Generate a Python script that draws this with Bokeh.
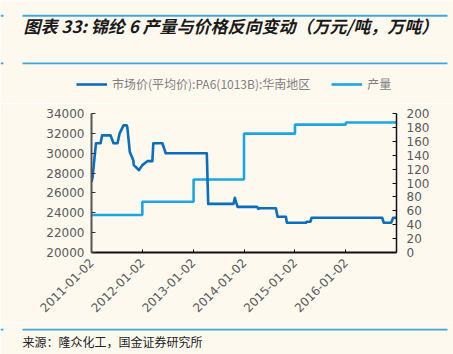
import pandas as pd
from bokeh.plotting import figure
from bokeh.layouts import column
from bokeh.models import (Range1d, LinearAxis, FixedTicker, DatetimeTickFormatter,
                          Legend, LegendItem, Label, BoxAnnotation)
from bokeh.embed import file_html
from bokeh.resources import INLINE

# ---------------- data ----------------
price_dates = [
    "2011-01-02", "2011-01-09", "2011-02-03", "2011-03-08", "2011-03-19",
    "2011-05-19", "2011-06-09", "2011-07-08", "2011-07-23", "2011-08-20",
    "2011-09-11", "2011-09-16", "2011-10-04", "2011-10-14", "2011-10-29",
    "2011-11-02", "2011-11-27", "2011-12-08", "2012-01-02", "2012-01-26",
    "2012-02-07", "2012-03-14", "2012-03-21", "2012-05-25", "2012-06-18",
    "2013-04-09", "2013-04-19", "2013-10-18", "2013-10-27", "2013-11-16",
    "2014-04-04", "2014-04-14", "2014-04-25", "2014-08-18", "2014-08-30",
    "2014-10-29", "2014-11-05", "2015-03-22", "2015-03-29", "2015-04-22",
    "2015-05-02", "2016-09-19", "2016-10-01", "2016-11-23", "2016-12-07",
    "2016-12-29",
]
price_values = [
    27100, 27500, 31000, 31000, 31800,
    31800, 31000, 31000, 32000, 32800,
    32800, 32650, 30130, 29800, 29300,
    28800, 28460, 28290, 28800, 29070,
    29200, 29200, 31000, 31000, 30000,
    30000, 24900, 24900, 25500, 24600,
    24600, 24400, 24450, 24450, 23600,
    23600, 23000, 23000, 23100, 23100,
    23500, 23500, 23000, 23000, 23500,
    23500,
]

prod_dates = ["2011-01-02", "2012-01-02", "2013-01-04", "2014-01-01",
              "2015-01-02", "2016-01-02", "2016-12-31"]
prod_values = [54, 73, 105, 171, 184, 187, 187]

x_tick_dates = ["2011-01-02", "2012-01-02", "2013-01-02",
                "2014-01-02", "2015-01-02", "2016-01-02"]
left_ticks = [20000, 22000, 24000, 26000, 28000, 30000, 32000, 34000]
right_ticks = [0, 20, 40, 60, 80, 100, 120, 140, 160, 180, 200]

title_text = "图表 33: 锦纶 6 产量与价格反向变动（万元/吨，万吨）"
source_text = "来源：隆众化工，国金证券研究所"
legend_labels = ["市场价(平均价):PA6(1013B):华南地区", "产量"]

# ---------------- style ----------------
W = 453
BG = "#FEF9EF"
PRICE_C = "#0B6DBE"
PROD_C = "#1AA5E8"
RULE_C = "#3FA6DF"
TICK_C = "#595959"
LW = 2.6
HEADER_H = 103
FOOTER_H = 32
MAIN_H = 354 - HEADER_H - FOOTER_H


def ms(d):
    return (pd.Timestamp(d) - pd.Timestamp("1970-01-01")).total_seconds() * 1000.0


def rule(fig, x0, x1, y0, y1):
    fig.add_layout(BoxAnnotation(left=x0, right=x1, top=y0, bottom=y1,
                                 fill_color=RULE_C, fill_alpha=1,
                                 line_color=None))


def blank(h):
    f = figure(width=W, height=h, output_backend="svg", toolbar_location=None,
               x_range=Range1d(0, W), y_range=Range1d(h, 0),
               x_axis_location=None, y_axis_location=None,
               min_border=0, background_fill_color=BG, border_fill_color=BG,
               outline_line_color=None, frame_align=False)
    f.xgrid.visible = False
    f.ygrid.visible = False
    return f


# ---------------- header: title, rules, legend ----------------
head = blank(HEADER_H)
rule(head, 0, 3, 14.3, 16.3)
rule(head, 22, 447, 14.3, 16.3)
rule(head, 0, 3, 62, 63.7)
rule(head, 22, 447, 62, 63.7)
head.add_layout(Label(x=23, y=24.5, text=title_text, text_baseline="middle",
                      text_font="Noto Sans CJK SC", text_font_style="bold italic",
                      text_font_size="17px", text_color="#1A1A1A"))
# legend keys: style-only renderers placed outside the visible range
k_price = head.line(x=[-500, -400], y=[-500, -500], line_color=PRICE_C, line_width=LW)
k_prod = head.line(x=[-500, -400], y=[-500, -500], line_color=PROD_C, line_width=LW)
legend = Legend(items=[LegendItem(label=legend_labels[0], renderers=[k_price]),
                       LegendItem(label=legend_labels[1], renderers=[k_prod])],
                location=(76, HEADER_H - 92), orientation="horizontal",
                glyph_width=31, glyph_height=14, label_height=14,
                label_standoff=5, spacing=21, padding=0, margin=0,
                border_line_color=None, background_fill_alpha=0,
                label_text_font="Noto Sans CJK SC",
                label_text_font_size="12px", label_text_color="#7F7F7F")
head.add_layout(legend, "center")

# ---------------- main chart ----------------
p = figure(width=W, height=MAIN_H, x_axis_type="datetime",
           output_backend="svg", toolbar_location=None,
           x_range=Range1d(ms("2011-01-02"), ms("2016-12-31")),
           y_range=Range1d(20000, 34000),
           min_border_left=91, min_border_right=57,
           min_border_top=113 - HEADER_H, min_border_bottom=354 - FOOTER_H - 252,
           background_fill_color=BG, border_fill_color=BG,
           outline_line_color=None, frame_align=False)
p.xgrid.visible = False
p.ygrid.visible = False

p.extra_y_ranges = {"prod": Range1d(0, 200)}
raxis = LinearAxis(y_range_name="prod")
p.add_layout(raxis, "right")

p.step(x=pd.to_datetime(prod_dates), y=prod_values, mode="after",
       line_color=PROD_C, line_width=LW, y_range_name="prod")
p.line(x=pd.to_datetime(price_dates), y=price_values,
       line_color=PRICE_C, line_width=LW, line_join="round")

fmt = "%Y-%m-%d"
p.xaxis.ticker = FixedTicker(ticks=[ms(d) for d in x_tick_dates])
p.xaxis.formatter = DatetimeTickFormatter(
    milliseconds=fmt, seconds=fmt, minsec=fmt, minutes=fmt, hourmin=fmt,
    hours=fmt, days=fmt, months=fmt, years=fmt)
p.xaxis.major_label_orientation = 0.785398
p.xaxis.minor_tick_line_color = None
p.xaxis.major_tick_in = 3
p.xaxis.major_tick_out = 0
p.xaxis.axis_line_color = "#111111"
p.xaxis.axis_line_width = 2
p.xaxis.major_tick_line_color = "#111111"
p.xaxis.major_label_standoff = 8

left = p.yaxis[0]
left.ticker = FixedTicker(ticks=left_ticks)
left.major_tick_in = 4
left.major_tick_out = 0
left.minor_tick_line_color = None
left.axis_line_color = "#555555"
left.axis_line_width = 2
left.major_tick_line_color = "#333333"
left.major_label_standoff = 7

raxis.ticker = FixedTicker(ticks=right_ticks)
raxis.major_tick_in = 4
raxis.major_tick_out = 0
raxis.minor_tick_line_color = None
raxis.axis_line_color = "#111111"
raxis.axis_line_width = 1.5
raxis.major_tick_line_color = "#111111"
raxis.major_label_standoff = 10

for ax in (p.xaxis[0], left, raxis):
    ax.major_label_text_font = "DejaVu Sans"
    ax.major_label_text_font_size = "12px"
    ax.major_label_text_color = TICK_C

# ---------------- footer: rule + source ----------------
foot = blank(FOOTER_H)
rule(foot, 0, 3, 328.3 - (354 - FOOTER_H), 330 - (354 - FOOTER_H))
rule(foot, 22, 447, 328.3 - (354 - FOOTER_H), 330 - (354 - FOOTER_H))
foot.add_layout(Label(x=22, y=341 - (354 - FOOTER_H), text=source_text,
                      text_baseline="middle", text_font="Noto Sans CJK SC",
                      text_font_size="12px", text_color="#222222"))

layout = column(head, p, foot, spacing=0)
open("out.html", "w").write(file_html(layout, INLINE))
